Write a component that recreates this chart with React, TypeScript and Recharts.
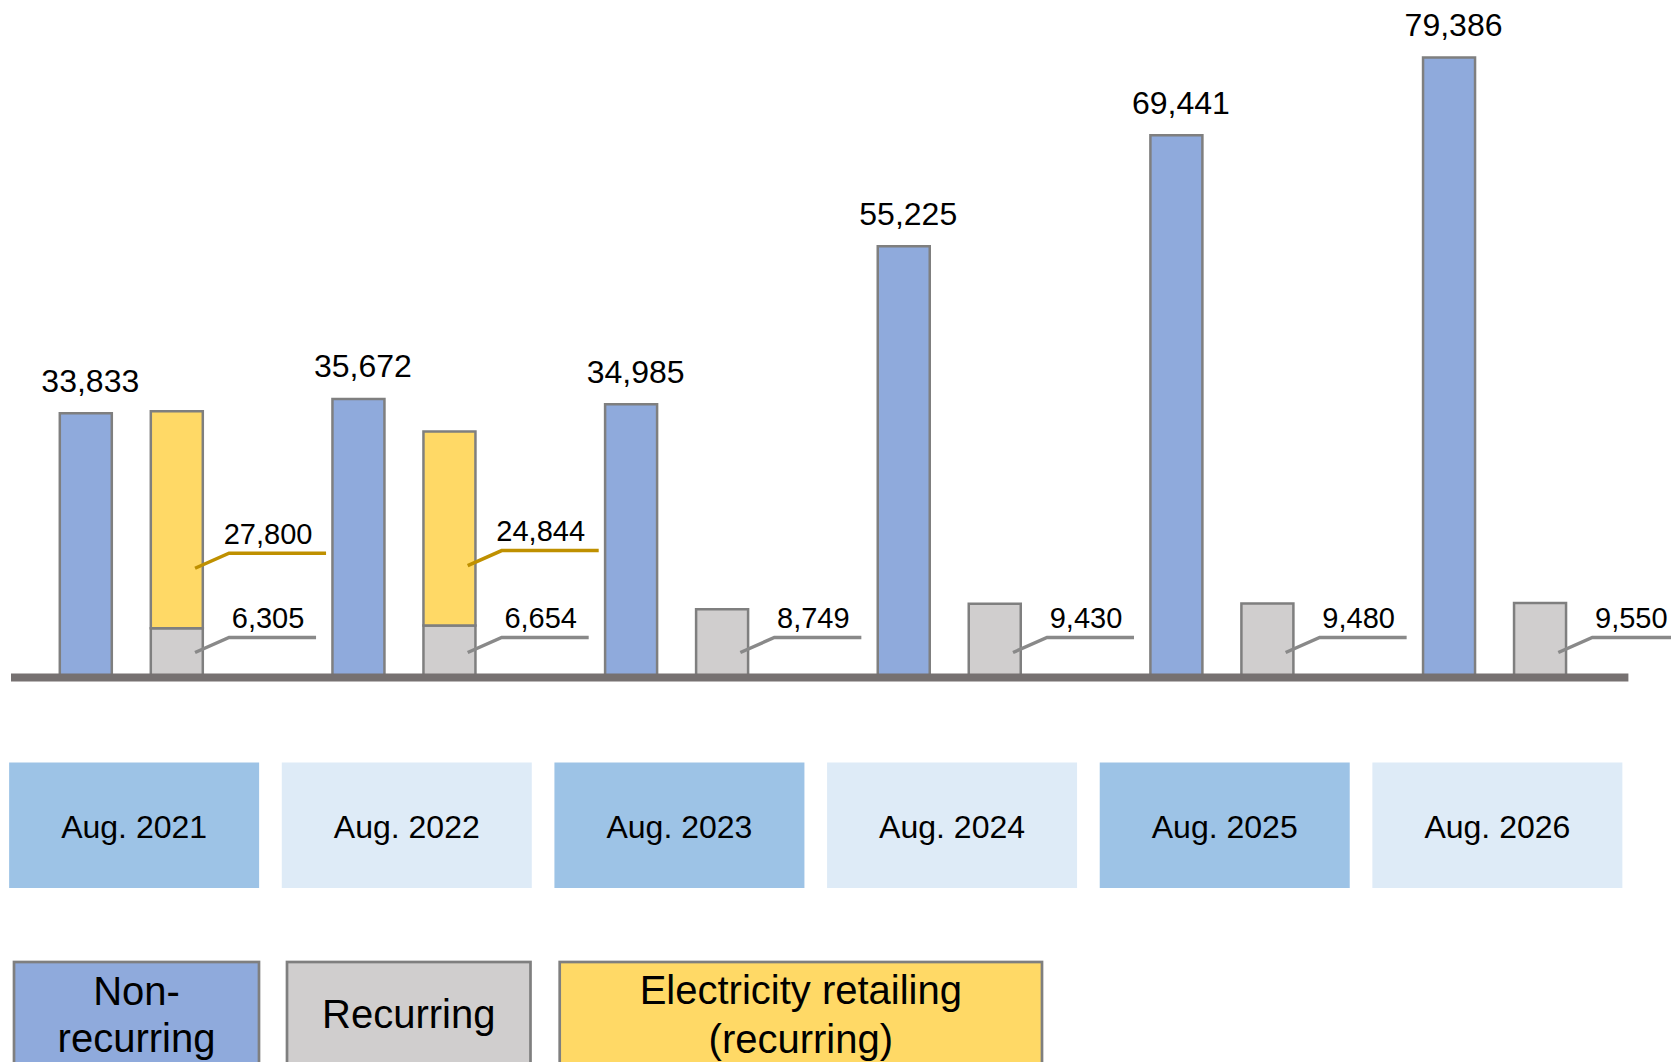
import React from 'react';
import { BarChart, Bar, XAxis, YAxis, Legend, LabelList } from 'recharts';

// Fiscal periods and amounts per category
const periods = ['Aug. 2021', 'Aug. 2022', 'Aug. 2023', 'Aug. 2024', 'Aug. 2025', 'Aug. 2026'];
const nonRecurring = [33833, 35672, 34985, 55225, 69441, 79386];
const recurring = [6305, 6654, 8749, 9430, 9480, 9550];
const electricityRetailing: (number | null)[] = [27800, 24844, null, null, null, null];

// Legend captions, one entry per line
const legendNonRecurring = ['Non-', 'recurring'];
const legendRecurring = ['Recurring'];
const legendElectricity = ['Electricity retailing', '(recurring)'];

const FONT = "'Liberation Sans', Arial, Helvetica, sans-serif";
const BLUE = '#8FAADC';
const GRAY = '#D0CECE';
const YELLOW = '#FFD966';
const BAR_STROKE = '#7F7F7F';
const AXIS = '#767171';
const LEADER_GRAY = '#898989';
const LEADER_GOLD = '#BF9000';
const TICK_DARK = '#9DC3E6';
const TICK_LIGHT = '#DEEBF7';

const data = periods.map((period, i) => ({
  period,
  nonRecurring: nonRecurring[i],
  recurring: recurring[i],
  electricity: electricityRetailing[i],
}));

const fmt = (v: number) => v.toLocaleString('en-US');

// Value printed above each non-recurring column
const TopLabel = (props: any) => {
  const { x, y, width, value } = props;
  if (value == null) return null;
  return (
    <text
      x={Number(x) + Number(width) / 2 + 4.5}
      y={Number(y) - 21.5}
      textAnchor="middle"
      fontSize={32}
      fontFamily={FONT}
      fill="#000"
    >
      {fmt(Number(value))}
    </text>
  );
};

// Callout with an angled leader line pointing into the segment
const makeLeaderLabel = (color: string, lineLen: number, fromTop: boolean) => (props: any) => {
  const { x, y, width, height, value } = props;
  if (value == null || Number(value) === 0) return null;
  const right = Number(x) + Number(width) + 1.25;
  const base = Number(y) + Number(height);
  const sy = fromTop ? base - 60 : base - 25;
  const sx = right - 9;
  const cx = right + 25;
  const cy = sy - 15;
  return (
    <g>
      <polyline
        points={`${sx},${sy} ${cx},${cy} ${right + lineLen},${cy}`}
        fill="none"
        stroke={color}
        strokeWidth={3.5}
      />
      <text x={right + 64} y={cy - 9.5} textAnchor="middle" fontSize={29} fontFamily={FONT} fill="#000">
        {fmt(Number(value))}
      </text>
    </g>
  );
};

const RecurringLabel = makeLeaderLabel(LEADER_GRAY, 112, false);
const ElectricityLabel = makeLeaderLabel(LEADER_GOLD, 122, true);

// Period names shown as shaded blocks under the axis
const PeriodTick = (props: any) => {
  const { x, y, payload } = props;
  const i = periods.indexOf(payload.value);
  const cx = Number(x) + 3;
  const top = Number(y) + 85;
  return (
    <g>
      <rect x={cx - 125} y={top} width={250} height={125.5} fill={i % 2 === 0 ? TICK_DARK : TICK_LIGHT} />
      <text x={cx} y={top + 75.5} textAnchor="middle" fontSize={32} fontFamily={FONT} fill="#000">
        {payload.value}
      </text>
    </g>
  );
};

const legendItems = [
  { lines: legendNonRecurring, fill: BLUE, x: 14, w: 245, baselines: [1005, 1051.7] },
  { lines: legendRecurring, fill: GRAY, x: 287, w: 243.5, baselines: [1028.3] },
  { lines: legendElectricity, fill: YELLOW, x: 559.7, w: 482.3, baselines: [1004.3, 1053.3] },
];

const LegendBlocks = () => (
  <svg
    width={1671}
    height={1062}
    style={{ position: 'absolute', left: 0, top: 0, overflow: 'visible', pointerEvents: 'none' }}
  >
    {legendItems.map((it, k) => (
      <g key={k}>
        <rect x={it.x} y={962} width={it.w} height={160} fill={it.fill} stroke={BAR_STROKE} strokeWidth={2.7} />
        {it.lines.map((ln, j) => (
          <text
            key={j}
            x={it.x + it.w / 2}
            y={it.baselines[j]}
            textAnchor="middle"
            fontSize={40}
            fontFamily={FONT}
            fill="#000"
          >
            {ln}
          </text>
        ))}
      </g>
    ))}
  </svg>
);

export default function App() {
  return (
    <div
      style={{
        position: 'absolute',
        left: 0,
        top: 0,
        width: 1671,
        height: 1062,
        overflow: 'hidden',
        background: '#fff',
        fontFamily: FONT,
      }}
    >
      <BarChart
        width={1671}
        height={1062}
        data={data}
        margin={{ top: 52.7, right: 42.6, bottom: 0, left: 11 }}
        barGap={39}
      >
        <XAxis
          dataKey="period"
          interval={0}
          tickLine={false}
          tickSize={0}
          tickMargin={0}
          axisLine={{ stroke: AXIS, strokeWidth: 8 }}
          tick={PeriodTick}
          height={384.5}
          padding={{ left: -16.2, right: -2.3 }}
        />
        <YAxis hide domain={[0, 80000]} />
        <Legend
          content={() => <LegendBlocks />}
          wrapperStyle={{ position: 'absolute', left: 0, top: 0, width: 0, height: 0, overflow: 'visible' }}
        />
        <Bar
          dataKey="nonRecurring"
          stackId="a"
          fill={BLUE}
          stroke={BAR_STROKE}
          strokeWidth={2.5}
          barSize={52}
          isAnimationActive={false}
        >
          <LabelList dataKey="nonRecurring" content={TopLabel} />
        </Bar>
        <Bar
          dataKey="recurring"
          stackId="b"
          fill={GRAY}
          stroke={BAR_STROKE}
          strokeWidth={2.5}
          barSize={52}
          isAnimationActive={false}
        >
          <LabelList dataKey="recurring" content={RecurringLabel} />
        </Bar>
        <Bar
          dataKey="electricity"
          stackId="b"
          fill={YELLOW}
          stroke={BAR_STROKE}
          strokeWidth={2.5}
          barSize={52}
          isAnimationActive={false}
        >
          <LabelList dataKey="electricity" content={ElectricityLabel} />
        </Bar>
      </BarChart>
    </div>
  );
}
